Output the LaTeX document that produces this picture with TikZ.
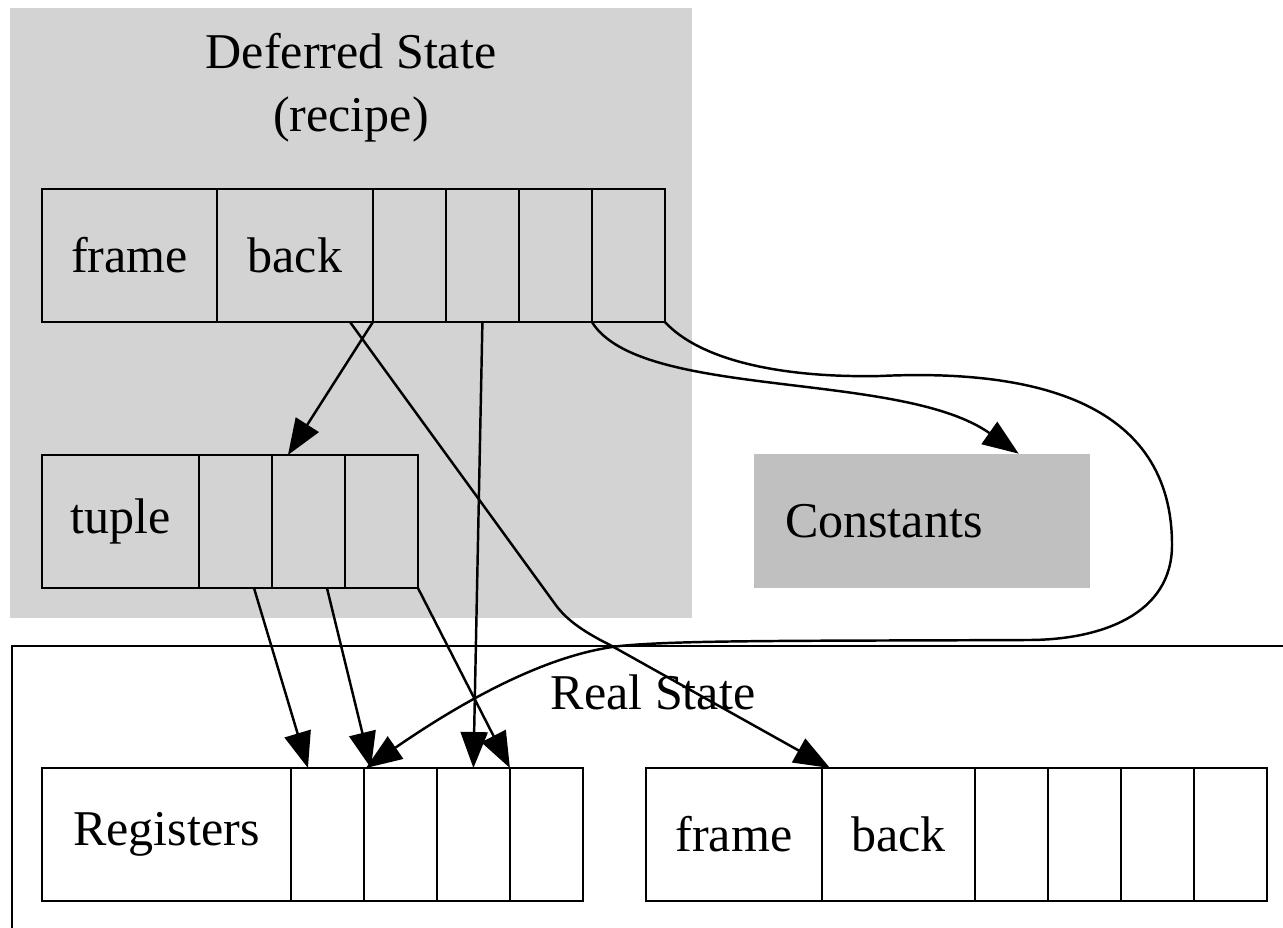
\documentclass[tikz,border=0pt]{standalone}
\usepackage{fontspec}
\setmainfont{Liberation Serif}
\usetikzlibrary{arrows.meta,positioning,calc}
\definecolor{recipegray}{RGB}{211,211,211}
\definecolor{constgray}{RGB}{192,192,192}

\begin{document}
\begin{tikzpicture}[
    x=0.02cm, y=-0.02cm,
    node distance=0pt,
    cell/.style={
      rectangle,
      draw=black,
      line width=1.4pt,
      inner sep=0pt,
      outer sep=0pt,
      minimum width=1.46cm,
      minimum height=2.66cm,
      font=\fontsize{28.5}{34}\selectfont
    },
    constbox/.style={
      rectangle,
      fill=constgray,
      inner xsep=0.62cm,
      inner ysep=0pt,
      text width=5.48cm,
      minimum height=2.68cm,
      align=left,
      font=\fontsize{28.5}{34}\selectfont
    },
    title/.style={align=center, inner sep=0pt, font=\fontsize{28.5}{36}\selectfont},
    arrow/.style={-{Triangle[length=0.72cm,width=0.54cm]}, line width=1.4pt}
  ]
    \clip (0,0) rectangle (1283,928);
    % clusters
    \fill[recipegray] (10,8) rectangle (692,618);
    \draw[line width=1.4pt] (12,646) rectangle (1320,960);
    \node[title] (deftitle) at (351,88) {Deferred State\\(recipe)};
    \node[title] (realtitle) at (653,692) {Real State};

    % deferred record
    \node[cell, minimum width=3.5cm, anchor=north west] (dframe) at (42,189) {frame};
    \node[cell, minimum width=3.12cm, right=of dframe] (dback) {back};
    \node[cell, right=of dback] (d3) {};
    \node[cell, right=of d3] (d4) {};
    \node[cell, right=of d4] (d5) {};
    \node[cell, right=of d5] (d6) {};

    % tuple
    \node[cell, minimum width=3.14cm, anchor=north west] (tuple) at (42,455) {tuple};
    \node[cell, right=of tuple] (t2) {};
    \node[cell, right=of t2] (t3) {};
    \node[cell, right=of t3] (t4) {};

    \node[constbox] (consts) at (922,521) {Constants};

    % real state
    \node[cell, minimum width=4.98cm, anchor=north west] (regs) at (42,768) {Registers};
    \node[cell, right=of regs] (r2) {};
    \node[cell, right=of r2] (r3) {};
    \node[cell, right=of r3] (r4) {};
    \node[cell, right=of r4] (r5) {};

    \node[cell, minimum width=3.52cm, anchor=north west] (rframe) at (646,768) {frame};
    \node[cell, minimum width=3.06cm, right=of rframe] (rback) {back};
    \node[cell, right=of rback] (rf3) {};
    \node[cell, right=of rf3] (rf4) {};
    \node[cell, right=of rf4] (rf5) {};
    \node[cell, right=of rf5] (rf6) {};

    % edges
    \draw[arrow] (d3.south west) -- ($(t3.north west)+(16,0)$);
    \draw[arrow] ($(dback.south east)+(-23,0)$) -- (555,604)
      .. controls (565,618) and (580,630) .. (610,645) -- ($(rback.north west)+(8,0)$);
    \draw[arrow] (d4.south) -- (r4.north);
    \draw[arrow] (d6.south west) .. controls (640,400) and (900,370) .. ($(consts.north west)+(265,0)$);
    \draw[arrow] (d6.south east) .. controls (700,360) and (780,378) .. (880,376)
      .. controls (1010,370) and (1172,390) .. (1172,545)
      .. controls (1172,615) and (1100,640) .. (1028,640)
      .. controls (800,641) and (680,640) .. (620,646)
      .. controls (540,655) and (450,710) .. ($(r3.north west)+(2,0)$);
    \draw[arrow] ($(t2.south east)+(-18,0)$) -- ($(r2.north west)+(17,0)$);
    \draw[arrow] ($(t3.south east)+(-18,0)$) -- ($(r3.north west)+(7,0)$);
    \draw[arrow] (t4.south east) -- (r5.north west);
\end{tikzpicture}
\end{document}
